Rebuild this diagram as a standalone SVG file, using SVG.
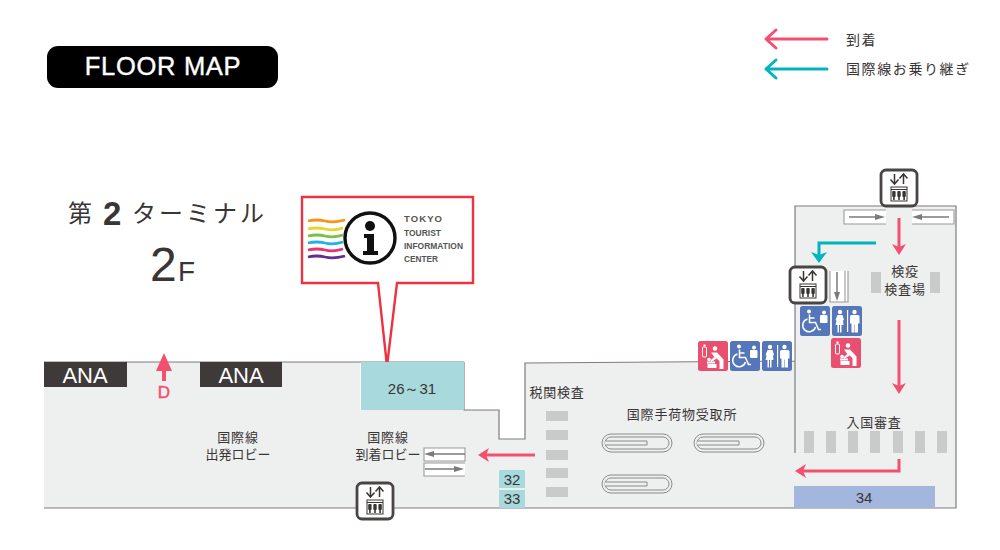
<svg xmlns="http://www.w3.org/2000/svg" width="1000" height="550" viewBox="0 0 1000 550">
<style>
text{font-family:"Noto Sans CJK JP","Noto Sans",sans-serif;fill:#3a3535}
.l{font-size:13px;letter-spacing:.8px;text-anchor:middle}
.l0{font-size:13px;text-anchor:middle}
.n{font-family:"Liberation Sans",sans-serif;font-size:15px;text-anchor:middle}
.a{font-family:"Liberation Sans",sans-serif;font-size:22px;fill:#fff;text-anchor:middle}
.ti{font-family:"Liberation Sans",sans-serif;font-size:9.500px;font-weight:700;fill:#555}
.wall{fill:none;stroke:#7d7d7d;stroke-width:1.2}
.pk{fill:none;stroke:#f2506f;stroke-width:3}
.tl{fill:none;stroke:#00b5bd;stroke-width:3}
.pkf{fill:#f2506f}
.tlf{fill:#00b5bd}
.gb{fill:#c9caca}
.esc{fill:#fff;stroke:#9a9a9a;stroke-width:1.1}
.ea{stroke:#7a7a7a;stroke-width:1.5;fill:none}
.eaf{fill:#7a7a7a}
.bag{fill:none;stroke:#8a8a8a;stroke-width:1}
.lift{fill:#fff;stroke:#4a4545;stroke-width:2.800}
.w{fill:#fff}
.ws{fill:none;stroke:#fff;stroke-width:1.500}
.blue{fill:#5576b9}
.red{fill:#e9506f}
.ic{fill:#3a3535}
.ll{stroke:#3a3535;stroke-width:1.500;fill:none}
</style>
<defs>
<g id="lift-icon">
<rect class="lift" x="-18" y="-18" width="36" height="36" rx="5"/>
<path class="ll" d="M-4.500 -14v10M-8.500 -8.500l4 4.500l4-4.500M4.500 -4v-10M.5 -9.500l4-4.500l4 4.500"/>
<rect x="-8" y="-1" width="16" height="14" fill="none" stroke="#3a3535"/>
<path stroke="#3a3535" d="M-8 1.500H8"/>
<g class="ic"><rect x="-6.800" y="3" width="3.400" height="6" rx="1"/><rect x="-5.900" y="7" width="1.600" height="5"/><rect x="-1.700" y="3" width="3.400" height="6" rx="1"/><rect x="-.8" y="7" width="1.600" height="5"/><rect x="3.400" y="3" width="3.400" height="6" rx="1"/><rect x="4.300" y="7" width="1.600" height="5"/></g>
</g>
<g id="blue-wc">
<rect class="blue" x="0" y="0" width="30" height="30" rx="2.500"/>
<circle class="w" cx="8" cy="6" r="2.200"/><path class="w" d="M5.500 9h5l1.500 5l-1 .5l.5 4.500h-2v7.500h-1.500v-7.500h-1v7.500H5.500v-7.500H3.500l1-4.500l-1-.5z"/>
<rect class="w" x="15" y="4" width="1.200" height="22"/>
<circle class="w" cx="22.500" cy="6" r="2.200"/><path class="w" d="M19 9h7q1.500 0 1.500 1.500v7h-1.500v9h-3v-8h-.5v8h-3v-9h-1.500v-7q0-1.500 1.500-1.500z"/>
</g>
<g id="blue-acc">
<rect class="blue" x="0" y="0" width="30" height="30" rx="2.500"/>
<circle class="w" cx="9" cy="5.500" r="2"/>
<path class="ws" d="M9.500 8.500v8h6l3 7h2.500M7.500 13a6.500 6.500 0 1 0 8 8"/>
<path class="ws" d="M9.500 12h5"/>
<circle class="w" cx="24" cy="6.500" r="2"/><rect class="w" x="20" y="9" width="7.500" height="8" rx="1"/>
</g>
<g id="red-baby">
<rect class="red" x="0" y="0" width="30" height="30" rx="2.500"/>
<rect x="4.500" y="6" width="4" height="10" rx="1" fill="none" stroke="#fff"/><rect class="w" x="5.500" y="3.500" width="2" height="2"/>
<circle class="w" cx="17" cy="7.500" r="2.300"/>
<path class="w" d="M13 11.500h6l6.500 7v9.500h-4v-8l-3-2.500l-5 3.500l-1.200-1.500l4-3.500z"/>
<path class="w" d="M9 20.500h8v2H9zM9.500 23h9v4h-9z"/><circle class="w" cx="11" cy="18.500" r="1.800"/>
</g>
<g id="bag">
<rect class="bag" x="0" y="0" width="70" height="18" rx="9"/>
<rect class="bag" x="3" y="3" width="64" height="12" rx="6"/>
<path d="M3 7h42v4H3" fill="#eeefef" stroke="#8a8a8a"/>
</g>
</defs>

<g id="floor">
<path fill="#eeefef" d="M44 362H360V410H464V410H499V439H525V363L795 361V206H956V508H44z"/>
<path class="wall" d="M44 362H360M464 362H360M464 362V410H499V439H525V363L795 361M795 453V206H956V508H44"/>
</g>

<g id="title"><rect x="47" y="46" width="231" height="42" rx="11" fill="#000"/>
<text x="163" y="75" text-anchor="middle" style='font-family:"Liberation Sans",sans-serif;font-size:25.500px;letter-spacing:.7px;fill:#fff;stroke:#fff;stroke-width:.4'>FLOOR MAP</text></g>

<g id="legend">
<path class="pk" stroke-linecap="round" stroke-linejoin="round" d="M827 39H766M776 30l-10 9l10 9"/>
<text x="846" y="45" style="font-size:14px;letter-spacing:1.500px">到着</text>
<path class="tl" stroke-linecap="round" stroke-linejoin="round" d="M827 69H766M776 60l-10 9l10 9"/>
<text x="846" y="74" style="font-size:14px;letter-spacing:1.600px">国際線お乗り継ぎ</text>
</g>

<g id="floor-label">
<text x="68" y="222" style="font-size:24px">第</text>
<text x="103" y="225" style='font-family:"Liberation Sans",sans-serif;font-size:33px;font-weight:700'>2</text>
<text x="132" y="222" style="font-size:24px;letter-spacing:3px">ターミナル</text>
<text x="150" y="281" style='font-family:"Liberation Sans",sans-serif;font-size:48px'>2</text>
<text x="178" y="281" style='font-family:"Liberation Sans",sans-serif;font-size:28px'>F</text>
</g>

<g id="callout">
<path d="M302 197H473V283H397L387 366L378 283H302z" fill="#fff" stroke="#ee3340" stroke-width="2.400"/>
<g fill="none" stroke-width="2.800">
<path d="M308 221q9-2 17 0t20-1" stroke="#f7941d"/><path d="M308 229q9-2 17 0t18-1" stroke="#e5d82c"/>
<path d="M308 236q9-2 17 0t18-1" stroke="#7ac143"/><path d="M308 243q9-2 17 0t18-1" stroke="#1cb5e0"/>
<path d="M308 250q9-2 17 0t18-1" stroke="#e8336d"/><path d="M308 257q9-2 17 0t20-1" stroke="#662d91"/>
</g>
<circle cx="370" cy="238" r="25" fill="#fff" stroke="#111" stroke-width="3.400"/>
<circle cx="370" cy="226" r="5" fill="#111"/>
<path fill="#111" d="M364 234h10v17h4v4h-15v-4h4v-13h-3z"/>
<text class="ti" x="404" y="222" textLength="38" lengthAdjust="spacing">TOKYO</text>
<text class="ti" x="404" y="236" textLength="37" lengthAdjust="spacingAndGlyphs">TOURIST</text>
<text class="ti" x="404" y="249" textLength="59" lengthAdjust="spacingAndGlyphs">INFORMATION</text>
<text class="ti" x="404" y="262" textLength="34" lengthAdjust="spacingAndGlyphs">CENTER</text>
</g>

<g id="counters">
<rect x="44" y="362" width="83" height="25" fill="#3e3a39"/><text class="a" x="85" y="383">ANA</text>
<rect x="200" y="362" width="82" height="25" fill="#3e3a39"/><text class="a" x="241" y="383">ANA</text>
<rect x="361" y="362" width="103" height="48" fill="#a8d9dd"/><text class="n" x="412" y="394">26～31</text>
<rect x="499" y="470" width="26" height="18" fill="#a8d9dd"/><text class="n" x="512" y="485">32</text>
<rect x="499" y="490" width="26" height="18" fill="#a8d9dd"/><text class="n" x="512" y="504">33</text>
<rect x="794" y="486" width="141" height="22" fill="#a3b6de"/><text class="n" x="864" y="503">34</text>
</g>

<g id="gates">
<path class="pkf" d="M164 353L172 371H166V381H162V371H156z"/>
<text x="164" y="398" text-anchor="middle" style='font-family:"Liberation Sans",sans-serif;font-size:17px;stroke:#f2506f;stroke-width:.5;fill:#f2506f'>D</text>
</g>

<g id="labels">
<text class="l" x="238" y="442">国際線</text><text class="l0" x="238" y="459">出発ロビー</text>
<text class="l" x="388" y="442">国際線</text><text class="l0" x="388" y="459">到着ロビー</text>
<text class="l" x="557" y="397">税関検査</text>
<text class="l" x="682" y="419">国際手荷物受取所</text>
<text class="l" x="905" y="276">検疫</text><text class="l" x="905" y="294">検査場</text>
<text class="l" x="874" y="427">入国審査</text>
</g>

<g id="booths" class="gb">
<rect x="546" y="411" width="22" height="10"/><rect x="546" y="430" width="22" height="10"/><rect x="546" y="450" width="22" height="10"/><rect x="546" y="468" width="22" height="10"/><rect x="546" y="487" width="22" height="10"/>
<rect x="804" y="431" width="10" height="22"/><rect x="826" y="431" width="10" height="22"/><rect x="848" y="431" width="10" height="22"/><rect x="870" y="431" width="10" height="22"/><rect x="893" y="431" width="10" height="22"/><rect x="915" y="431" width="10" height="22"/><rect x="937" y="431" width="10" height="22"/>
<rect x="871" y="272" width="10" height="21"/><rect x="930" y="272" width="10" height="21"/>
</g>

<g id="carousels">
<use href="#bag" x="602" y="434"/><use href="#bag" x="694" y="434"/><use href="#bag" x="602" y="475"/>
</g>

<g id="escalators">
<path class="esc" d="M424 448H465V461H424z"/><path class="ea" d="M465 454H432"/><path class="eaf" d="M424 454l10-3v6z"/>
<path class="esc" d="M465 463H424V476H465"/><path class="ea" d="M425 469H456"/><path class="eaf" d="M464 469l-10-3v6z"/>
<path class="esc" d="M886 210H844V224H886"/><path class="ea" d="M849 217H877"/><path class="eaf" d="M885 217l-10-3v6z"/>
<path class="esc" d="M912 210H954V224H912"/><path class="ea" d="M949 217H920"/><path class="eaf" d="M912 217l10-3v6z"/>
<path class="esc" d="M830 271V302H848V271"/><path class="ea" d="M837 272V294" /><path class="eaf" d="M837 301l-3-9h6z"/><path class="esc" d="M845 271V302"/>
</g>

<g id="connectors">
<path class="pk" d="M899 218V248"/><path class="pkf" d="M899 255L892 244L899 247L906 244z"/>
<path class="tl" d="M876 243H819V256"/><path class="tlf" d="M819 263L811 252L819 255L827 252z"/>
<path class="pk" d="M899 320V387"/><path class="pkf" d="M899 394L892 383L899 386L906 383z"/>
<path class="pk" d="M899 459V471H800"/><path class="pkf" d="M795 471L806 464L803 471L806 478z"/>
<path class="pk" d="M535 455H485"/><path class="pkf" d="M478 455L489 448L486 455L489 462z"/>
</g>

<g id="lift-top"><use href="#lift-icon" x="899" y="188"/></g>
<g id="lift-mid"><use href="#lift-icon" x="808" y="285"/></g>
<g id="lift-bottom"><use href="#lift-icon" x="375" y="501"/></g>

<g id="facilities">
<use href="#blue-acc" x="800" y="306"/><use href="#blue-wc" x="832" y="306"/><use href="#red-baby" x="831" y="338"/>
<use href="#red-baby" x="698" y="341"/><use href="#blue-acc" x="730" y="341"/><use href="#blue-wc" x="762" y="341"/>
</g>
</svg>
